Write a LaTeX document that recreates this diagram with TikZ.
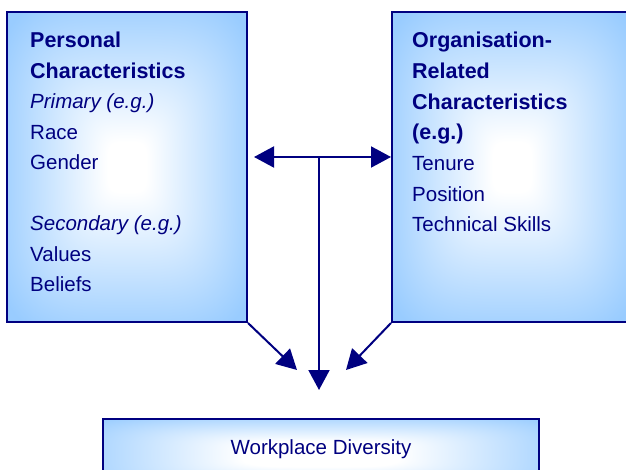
\documentclass[tikz,border=0pt]{standalone}
\usepackage{fontspec}
\setmainfont{Liberation Sans}
\usetikzlibrary{arrows.meta}
\definecolor{navy}{HTML}{000080}
% soft glow: white centre fading to light blue (0.6,0.8,1) towards the edges,
% measured with a rounded-square distance so the corners stay blue
\pgfdeclarefunctionalshading{boxglow}{\pgfpoint{-50bp}{-50bp}}{\pgfpoint{50bp}{50bp}}{}{
  dup mul dup mul exch dup mul dup mul add sqrt sqrt
  4 sub 24 div
  dup 0 lt {pop 0} if dup 1 gt {pop 1} if
  dup 0.4 mul 1 exch sub
  exch 0.2 mul 1 exch sub
  1
}
\pgfdeclarefunctionalshading{barglow}{\pgfpoint{-50bp}{-50bp}}{\pgfpoint{50bp}{50bp}}{}{
  dup mul dup mul exch dup mul dup mul add sqrt sqrt
  9 sub 21 div
  dup 0 lt {pop 0} if dup 1 gt {pop 1} if
  dup 0.4 mul 1 exch sub
  exch 0.2 mul 1 exch sub
  1
}

\begin{document}
\begin{tikzpicture}[x=1pt,y=-1pt,
  panel/.style={draw=navy, line width=2pt, rectangle, inner sep=0pt},
  label/.style={text=navy, align=left, anchor=north west, inner sep=0pt},
  link/.style={draw=navy, line width=2pt, -{Triangle[length=20pt,width=21pt]}},
  both/.style={draw=navy, line width=2pt, {Triangle[length=20pt,width=21pt]}-{Triangle[length=20pt,width=21pt]}},
]
\useasboundingbox (0,0) rectangle (626,470);
\clip (0,0) rectangle (626,470);

% the three panels
\node[panel, shading=boxglow, minimum width=240pt, minimum height=310pt] (pc) at (127,167) {};
\node[panel, shading=boxglow, minimum width=240pt, minimum height=310pt] (oc) at (512,167) {};
\node[panel, shading=barglow, minimum width=436pt, minimum height=70pt] (wd) at (321,454) {};

% panel texts
\node[label, font=\fontsize{20.5}{30.5}\selectfont] (pct) at (30,32)
  {{\fontsize{21.5}{30.5}\selectfont\bfseries Personal}\\{\fontsize{21.5}{30.5}\selectfont\bfseries Characteristics}\\\textit{Primary (e.g.)}\\Race\\Gender\\[30.5pt]\textit{Secondary (e.g.)}\\Values\\Beliefs};
\node[label, font=\fontsize{20.5}{30.7}\selectfont] (oct) at (412,32)
  {{\fontsize{21.5}{30.7}\selectfont\bfseries Organisation-}\\{\fontsize{21.5}{30.7}\selectfont\bfseries Related}\\{\fontsize{21.5}{30.7}\selectfont\bfseries Characteristics}\\{\fontsize{21.5}{30.7}\selectfont\bfseries (e.g.)}\\Tenure\\Position\\Technical Skills};
\node[text=navy, inner sep=0pt, font=\fontsize{20.5}{24}\selectfont] (wdt) at (321,449) {Workplace Diversity};

% connectors
\coordinate (j) at (319,157);
\coordinate (t) at (319,390);
\coordinate (tl) at (297,370);
\coordinate (tr) at (346,370);
\draw[both] ([xshift=6pt]pc.east |- j) -- (oc.west |- j);
\draw[link] (j) -- (t);
\draw[link] (pc.south east) -- (tl);
\draw[link] (oc.south west) -- (tr);
\end{tikzpicture}
\end{document}
